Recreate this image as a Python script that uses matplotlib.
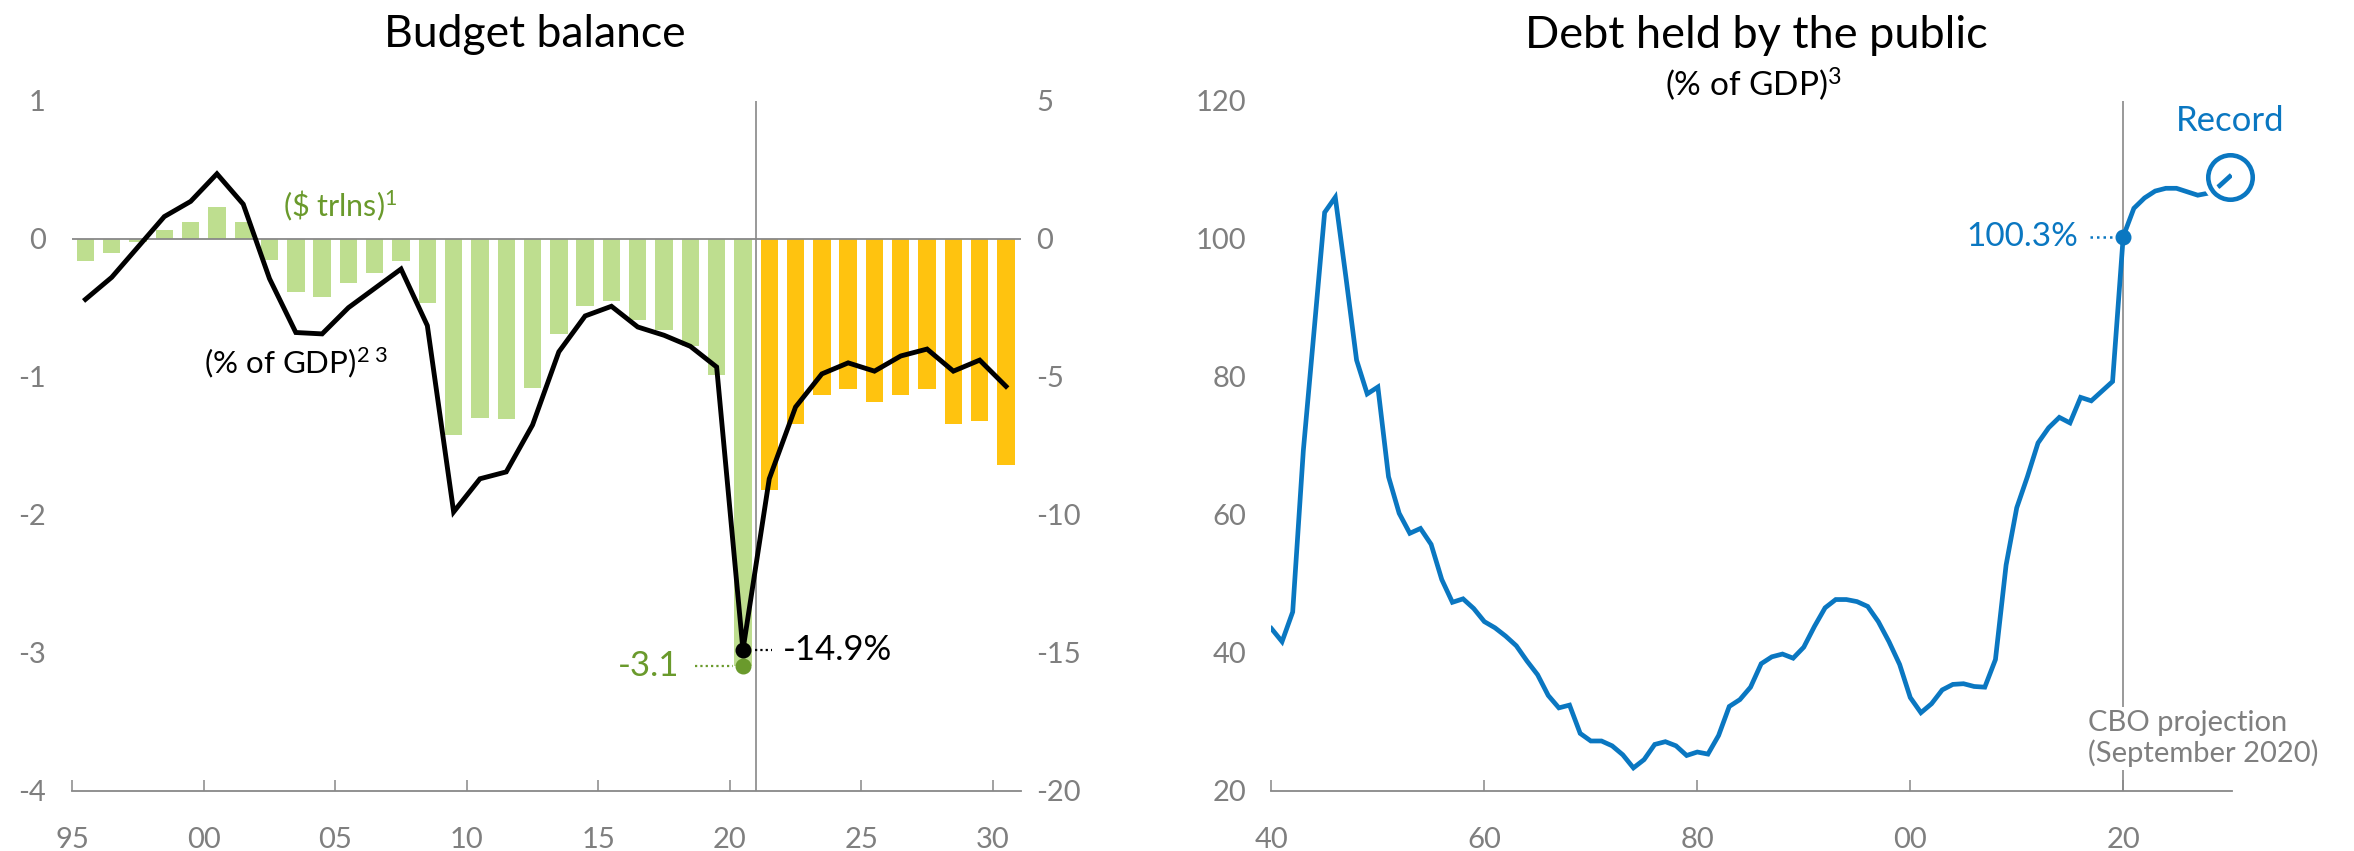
import numpy as np
import matplotlib
matplotlib.use("Agg")
import matplotlib.pyplot as plt

plt.rcParams['font.family'] = ['Lato', 'DejaVu Sans']
plt.rcParams['mathtext.default'] = 'regular'
plt.rcParams['mathtext.fontset'] = 'custom'
plt.rcParams['mathtext.rm'] = 'Lato'

# ---- Budget balance: fiscal years 1995-2030 ----
hist_years = np.arange(1995, 2021)
proj_years = np.arange(2021, 2031)
balance_hist_trn = [-0.165, -0.107, -0.027, 0.066, 0.124, 0.233, 0.124, -0.155,
                    -0.383, -0.42, -0.318, -0.252, -0.165, -0.464, -1.42, -1.30,
                    -1.31, -1.08, -0.69, -0.49, -0.45, -0.587, -0.665, -0.78,
                    -0.985, -3.1]
balance_proj_trn = [-1.82, -1.34, -1.13, -1.09, -1.18, -1.13, -1.09, -1.34,
                    -1.32, -1.64]
balance_years = np.arange(1995, 2031)
balance_pct_gdp = [-2.2, -1.4, -0.3, 0.8, 1.35, 2.35, 1.25, -1.45, -3.4, -3.45,
                   -2.5, -1.8, -1.1, -3.15, -9.9, -8.7, -8.45, -6.75, -4.1,
                   -2.8, -2.45, -3.2, -3.5, -3.9, -4.65, -14.9, -8.7, -6.1,
                   -4.9, -4.5, -4.8, -4.25, -4.0, -4.8, -4.4, -5.35]
left_ticks = [1995, 2000, 2005, 2010, 2015, 2020, 2025, 2030]
left_ticklabels = ['95', '00', '05', '10', '15', '20', '25', '30']

# ---- Debt held by the public, % of GDP, 1940-2030 ----
debt_years = np.arange(1940, 2031)
debt_pct_gdp = [43.5, 41.6, 45.9, 69.3, 86.5, 103.8, 106.0, 94.4, 82.4, 77.5,
                78.5, 65.5, 60.2, 57.3, 58.0, 55.7, 50.6, 47.3, 47.8, 46.4,
                44.5, 43.6, 42.4, 41.0, 38.8, 36.8, 33.8, 32.0, 32.4, 28.3,
                27.2, 27.2, 26.5, 25.2, 23.3, 24.5, 26.7, 27.1, 26.5, 25.1,
                25.6, 25.3, 28.0, 32.2, 33.2, 35.0, 38.4, 39.4, 39.8, 39.2,
                40.8, 43.8, 46.5, 47.7, 47.7, 47.4, 46.7, 44.5, 41.6, 38.3,
                33.5, 31.3, 32.6, 34.6, 35.4, 35.5, 35.1, 35.0, 39.0, 52.7,
                61.0, 65.5, 70.4, 72.6, 74.1, 73.3, 77.0, 76.5, 77.9, 79.3,
                100.3, 104.4, 105.9, 106.9, 107.3, 107.3, 106.8, 106.3, 106.6,
                107.6, 109.0]
right_ticks = [1940, 1960, 1980, 2000, 2020]
right_ticklabels = ['40', '60', '80', '00', '20']

GREEN_BAR = '#BEDE8F'
GREEN_TXT = '#6A9A2C'
YELLOW = '#FFC30F'
BLUE = '#0A77C1'
GREY = '#888888'
TICK_GREY = '#7F7F7F'

fig = plt.figure(figsize=(23.54, 8.51), dpi=100)
ax1 = fig.add_axes([0.0307, 0.0709, 0.4029, 0.8108])
ax1b = ax1.twinx()
ax2 = fig.add_axes([0.5401, 0.0709, 0.4080, 0.8108])

TICK_FS = 21

def style_axis(ax):
    for s in ('top', 'left', 'right'):
        ax.spines[s].set_visible(False)
    ax.spines['bottom'].set_color(GREY)
    ax.spines['bottom'].set_linewidth(1.3)
    ax.tick_params(axis='x', direction='in', length=7.7, width=1.1,
                   color=GREY, labelcolor=TICK_GREY, labelsize=TICK_FS, pad=26)
    ax.tick_params(axis='y', length=0, labelcolor=TICK_GREY,
                   labelsize=TICK_FS)

# ---------------- Left panel ----------------
style_axis(ax1)
ax1.set_xlim(1995, 2031.06)
ax1.set_ylim(-4, 1)
ax1.set_xticks(left_ticks)
ax1.set_xticklabels(left_ticklabels)
ax1.set_yticks([-4, -3, -2, -1, 0, 1])
ax1.set_yticklabels(['-4', '-3', '-2', '-1', '0', '1'])
ax1.tick_params(axis='y', pad=19)

ax1.bar(hist_years + 0.5, balance_hist_trn, width=0.66, color=GREEN_BAR,
        zorder=2)
ax1.bar(proj_years + 0.5, balance_proj_trn, width=0.66, color=YELLOW,
        zorder=2)
ax1.axhline(0, color=GREY, lw=1.3, zorder=3)
ax1.plot([2021, 2021], [-4, 1], color=GREY, lw=1.2, zorder=3)

ax1b.set_ylim(-20, 5)
ax1b.set_yticks([-20, -15, -10, -5, 0, 5])
ax1b.set_yticklabels(['-20', '-15', '-10', '-5', '0', '5'])
for s in ax1b.spines.values():
    s.set_visible(False)
ax1b.tick_params(axis='y', length=0, labelcolor=TICK_GREY, labelsize=TICK_FS,
                 pad=11)
ax1b.plot(balance_years + 0.5, balance_pct_gdp, color='black', lw=3.5,
          solid_joinstyle='miter', zorder=4)

# Highlighted 2020 values
x20 = hist_years[-1] + 0.5
ax1b.plot(x20, balance_pct_gdp[25], 'o', color='black', ms=10.5, zorder=5)
ax1.plot(x20, balance_hist_trn[-1], 'o', color=GREEN_TXT, ms=10.5, zorder=5)
ax1b.plot([x20 + 0.45, x20 + 1.1], [balance_pct_gdp[25]] * 2, color='black',
          lw=1.6, ls=(0, (1, 1.4)), zorder=5)
ax1b.text(x20 + 1.5, balance_pct_gdp[25], f'{balance_pct_gdp[25]:.1f}%',
          fontsize=25, color='black', ha='left', va='center')
ax1.plot([x20 - 1.82, x20 - 0.38], [balance_hist_trn[-1]] * 2,
         color=GREEN_TXT, lw=1.6, ls=(0, (1, 1.4)), zorder=5)
ax1.text(x20 - 2.4, balance_hist_trn[-1], f'{balance_hist_trn[-1]:.1f}',
         fontsize=25, color=GREEN_TXT, ha='right', va='center')

ax1.text(2003.0, 0.24, r'(\$ trlns)$^{1}$', fontsize=22, color=GREEN_TXT,
         ha='left', va='center')
ax1b.text(2000.0, -4.5, r'(% of GDP)$^{2\;3}$', fontsize=22.5, color='black',
          ha='left', va='center')

# ---------------- Right panel ----------------
style_axis(ax2)
ax2.set_xlim(1940, 2030.2)
ax2.set_ylim(20, 120)
ax2.set_xticks(right_ticks)
ax2.set_xticklabels(right_ticklabels)
ax2.set_yticks([20, 40, 60, 80, 100, 120])
ax2.tick_params(axis='y', pad=18)

ax2.plot([2020, 2020], [20, 120], color=GREY, lw=1.2, zorder=2)
ax2.text(2016.7, 27.6, 'CBO projection\n(September 2020)', fontsize=21,
         color=TICK_GREY, ha='left', va='center', linespacing=1.15,
         bbox=dict(facecolor='white', edgecolor='none', pad=2), zorder=3)

ax2.plot(debt_years, debt_pct_gdp, color=BLUE, lw=3.4,
         solid_joinstyle='miter', zorder=4)

i20 = list(debt_years).index(2020)
ax2.plot(2020, debt_pct_gdp[i20], 'o', color=BLUE, ms=10.5, zorder=5)
ax2.plot([2016.9, 2019.0], [debt_pct_gdp[i20]] * 2, color=BLUE, lw=1.8,
         ls=(0, (1, 1.6)), zorder=5)
ax2.text(2015.8, debt_pct_gdp[i20], f'{debt_pct_gdp[i20]:.1f}%', fontsize=24,
         color=BLUE, ha='right', va='center')

# Ring around the record level at the end of the projection
ax2.plot(debt_years[-1], debt_pct_gdp[-1], 'o', ms=32, mfc='none',
         mec='white', mew=9, zorder=6, clip_on=False)
ax2.plot(debt_years[-1], debt_pct_gdp[-1], 'o', ms=32, mfc='none',
         mec=BLUE, mew=3.3, zorder=7, clip_on=False)
ax2.text(debt_years[-1], 117.0, 'Record', fontsize=25, color=BLUE,
         ha='center', va='center')

# ---------------- Titles ----------------
fig.text(0.2273, 1 - 46.7 / 851, 'Budget balance', fontsize=32,
         ha='center', va='baseline')
fig.text(0.746, 1 - 47.6 / 851, 'Debt held by the public', fontsize=32.5,
         ha='center', va='baseline')
fig.text(0.745, 1 - 96.4 / 851, r'(% of GDP)$^{3}$', fontsize=24,
         ha='center', va='baseline')

fig.savefig('out.png', dpi=100)
